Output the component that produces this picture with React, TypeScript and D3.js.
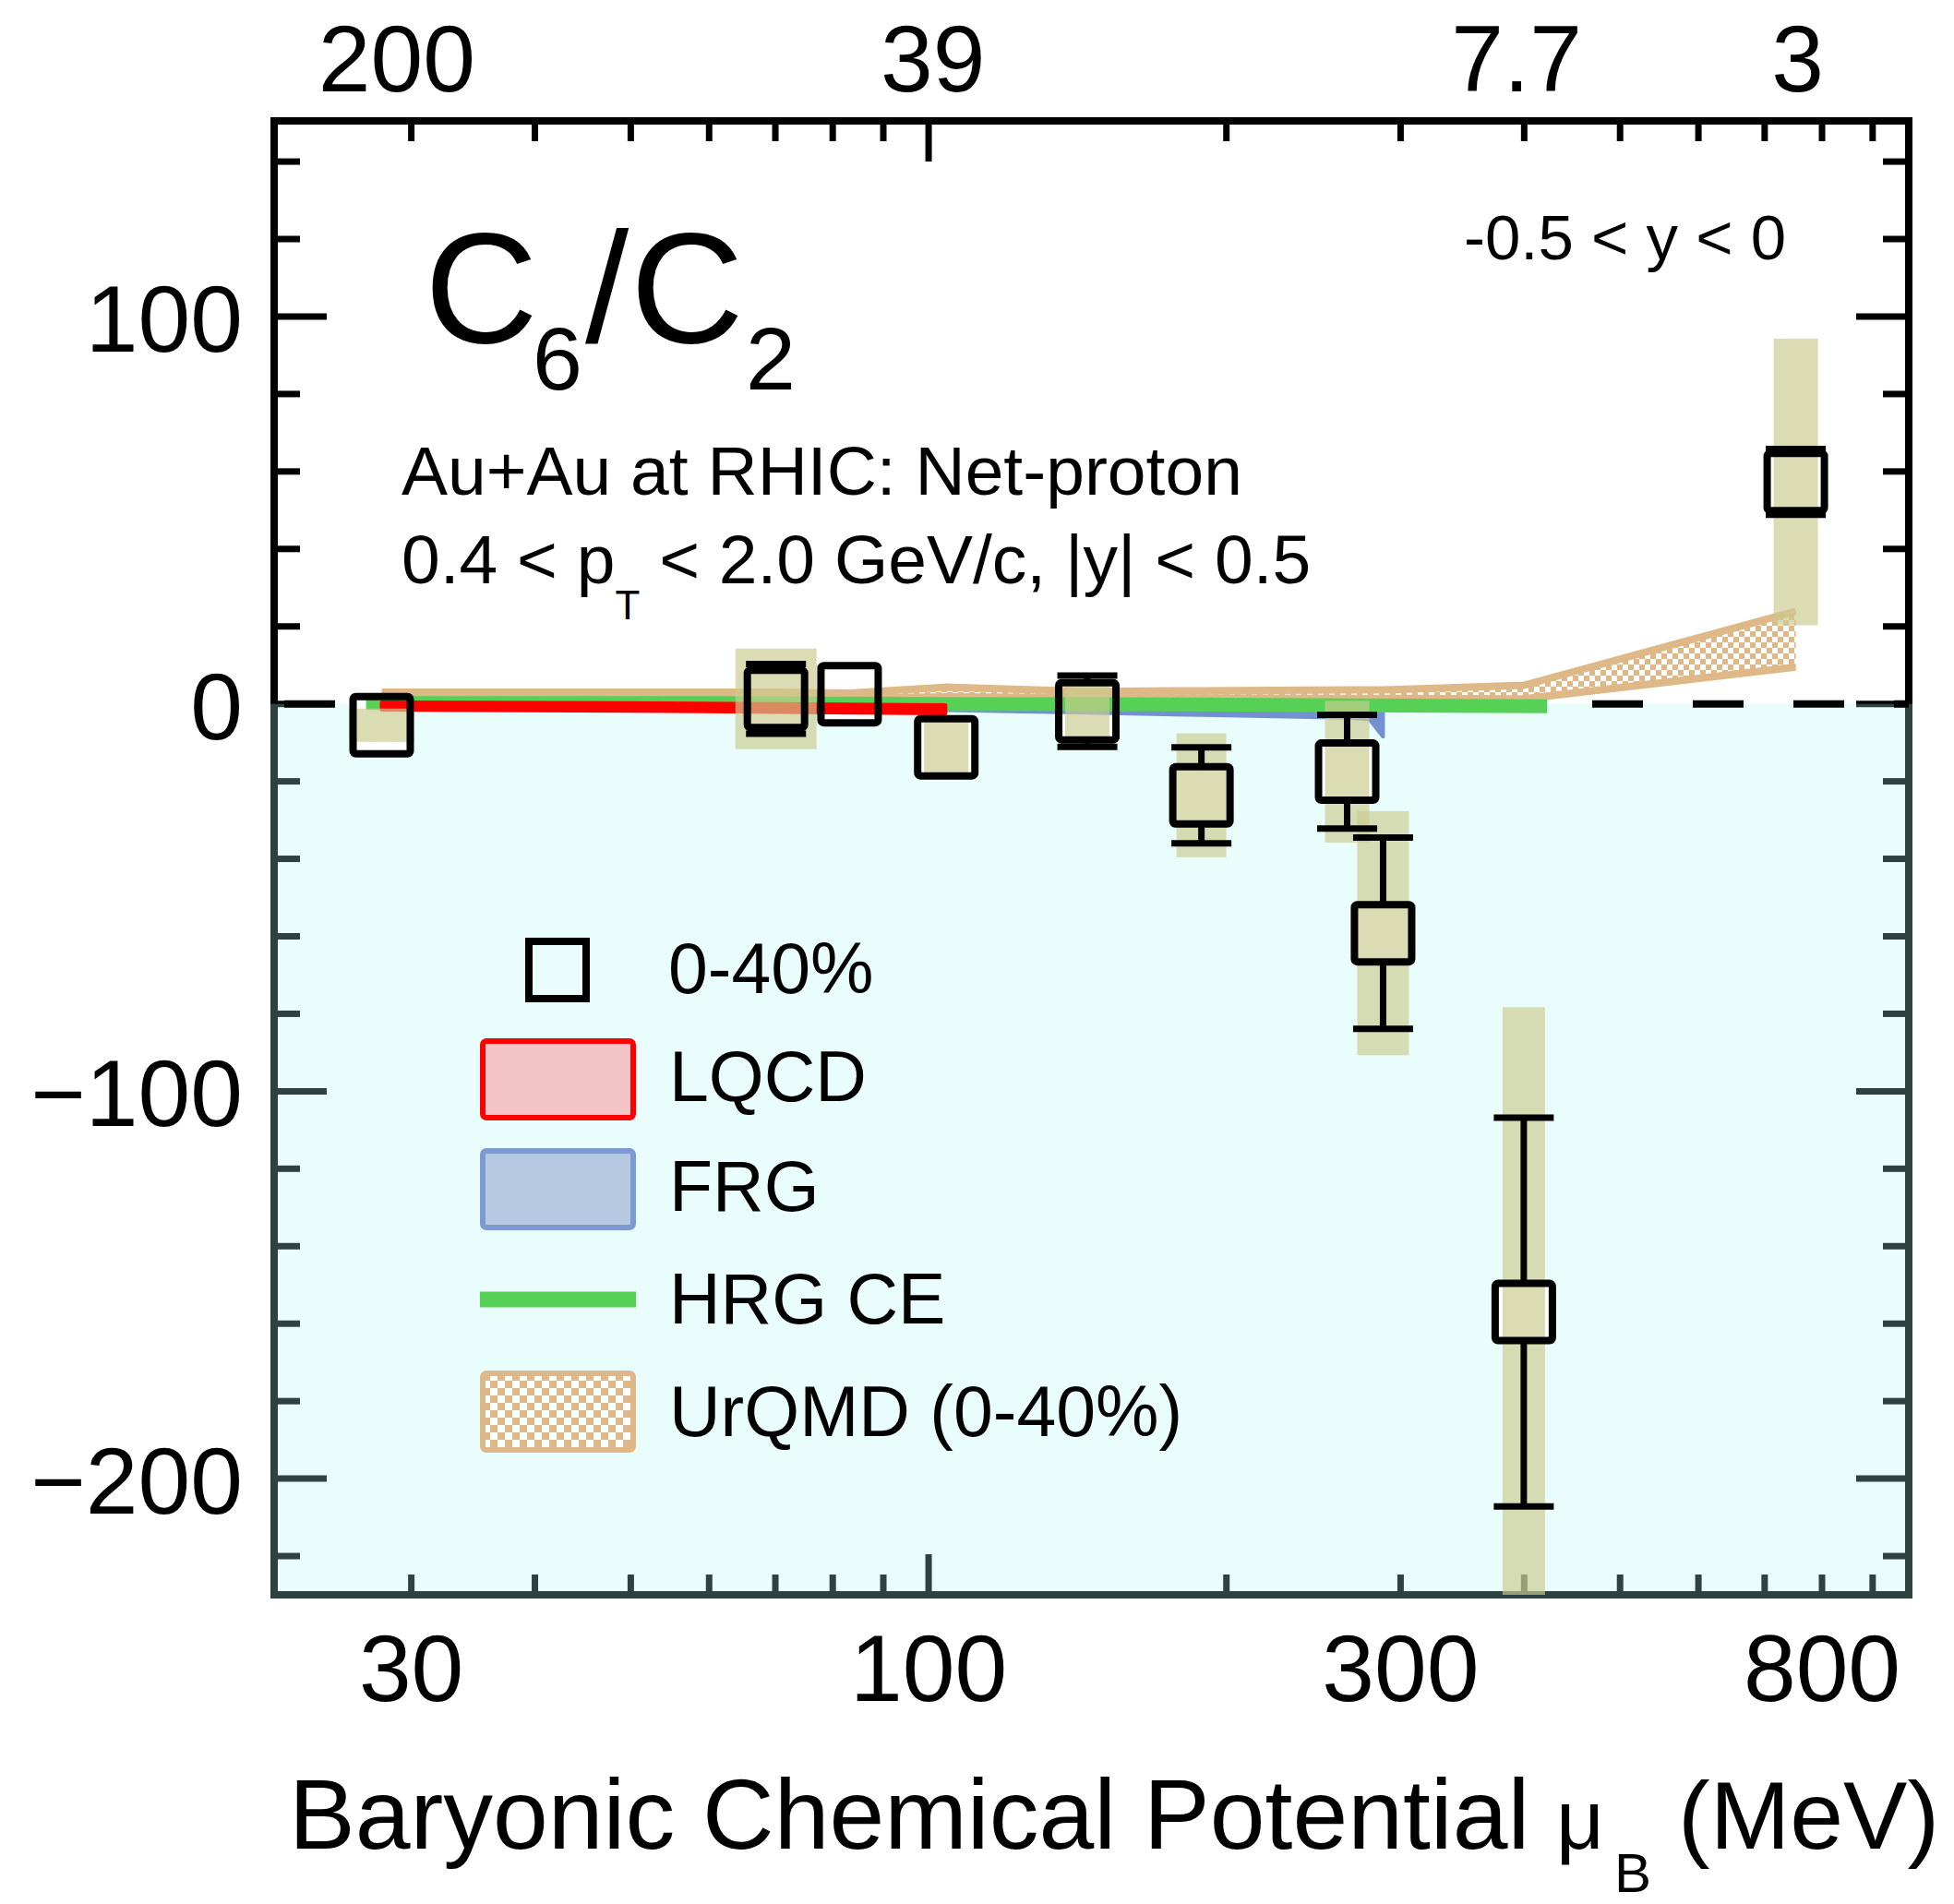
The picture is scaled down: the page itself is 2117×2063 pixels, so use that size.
import React from "react";
import * as d3 from "d3";

const W = 2117;
const H = 2063;
const FONT = "'Liberation Sans', Arial, Helvetica, sans-serif";

// Net-proton C6/C2, Au+Au 0-40%, vs baryonic chemical potential (MeV)
const muB = [28.0, 70.1, 83.2, 104.2, 144.7, 188.7, 264.9, 288.0, 399.6, 752.6];
const c6c2 = [-5.5, 1.3, 2.5, -11.2, -1.9, -23.6, -17.5, -59.2, -157.0, 57.3];
const statErr = [5, 9.0, 4, 5, 9.2, 12.4, 14.7, 24.7, 50.2, 8.5];
const sysErr = [4.3, 13, 0, 7.5, 6.5, 16, 18.3, 31.5, 78.7, 37];

// Lattice QCD band
const lqcdMuB = [28, 50, 70, 104];
const lqcdHi = [0.4, 0.2, 0.0, -0.3];
const lqcdLo = [-1.5, -1.8, -2.1, -2.5];

// FRG band
const frgMuB = [28, 70, 104, 145, 189, 265, 279, 288];
const frgHi = [0.0, -0.2, -0.3, -0.6, -0.9, -1.6, -1.9, -2.2];
const frgLo = [-1.0, -1.3, -1.6, -2.3, -2.9, -3.6, -4.0, -8.5];

// HRG with canonical ensemble
const hrgMuB = [27, 60, 104, 145, 200, 265, 330, 422];
const hrgVal = [0.2, 0.2, 0.0, -0.1, -0.2, -0.4, -0.5, -0.6];

// UrQMD 0-40% band
const urqmdMuB = [28, 70.1, 83.2, 104.2, 144.7, 188.7, 264.9, 288.0, 399.6, 752.6];
const urqmdHi = [3.0, 3.0, 2.8, 4.3, 3.2, 3.4, 3.6, 3.6, 4.8, 23.9];
const urqmdLo = [1.6, 1.6, 1.6, 1.8, 1.6, 1.5, 1.4, 1.4, 1.3, 9.5];

// axes
const muBLabelTicks = [30, 100, 300, 800];
const muBMajorTicks = [100];
const muBMinorTicks = [30, 40, 50, 60, 70, 80, 90, 200, 300, 400, 500, 600, 700, 800, 900];
const yMajorTicks = [-200, -100, 0, 100];
const yMinorTicks = [-220, -180, -160, -140, -120, -80, -60, -40, -20, 20, 40, 60, 80, 120, 140];
const yLabelTicks = [100, 0, -100, -200];
const energyLabels = ["200", "39", "7.7", "3"];
const energyMuB = [29, 101, 393, 756];

// systematic box half-widths (px)
const sysHalfW = [35, 44, 24, 24, 24, 27, 24, 28, 23, 24];

const L = 297, R = 2068, T = 131, B = 1728;
const x = d3.scaleLog().domain([21.8, 979]).range([L, R]);
const y = d3.scaleLinear().domain([-230, 150.5]).range([B, T]);

const bandPath = (mu: number[], lo: number[], hi: number[]) =>
  d3
    .area<number>()
    .x((i) => x(mu[i]))
    .y0((i) => y(lo[i]))
    .y1((i) => y(hi[i]))(d3.range(mu.length)) as string;

const linePath = (mu: number[], v: number[]) =>
  d3
    .line<number>()
    .x((i) => x(mu[i]))
    .y((i) => y(v[i]))(d3.range(mu.length)) as string;

const fmt = (v: number) => (v < 0 ? "\u2212" + Math.abs(v) : String(v));

const TAN = "#deb887";
const BOX = 62; // marker size (stroke centre)

export default function App() {
  const y0 = y(0);
  return (
    <svg
      width={W}
      height={H}
      viewBox={`0 0 ${W} ${H}`}
      style={{ position: "absolute", left: 0, top: 0, background: "#fff" }}
      fontFamily={FONT}
    >
      <defs>
        <pattern id="chk" width={12} height={12} patternUnits="userSpaceOnUse">
          <rect width={12} height={12} fill="#fff" />
          <rect width={6} height={6} fill={TAN} />
          <rect x={6} y={6} width={6} height={6} fill={TAN} />
        </pattern>
        <pattern id="chkLeg" width={16} height={16} patternUnits="userSpaceOnUse" x={523} y={1488}>
          <rect width={16} height={16} fill="#fff" />
          <rect width={8} height={8} fill={TAN} />
          <rect x={8} y={8} width={8} height={8} fill={TAN} />
        </pattern>
      </defs>
      <rect width={W} height={H} fill="#fff" />

      {/* frame and ticks */}
      <g stroke="#000" strokeWidth={7}>
        {muBMinorTicks.concat(muBMajorTicks).map((v) => {
          const len = muBMajorTicks.includes(v) ? 44 : 22;
          return (
            <g key={"xt" + v}>
              <line x1={x(v)} x2={x(v)} y1={B} y2={B - len} />
              <line x1={x(v)} x2={x(v)} y1={T} y2={T + len} />
            </g>
          );
        })}
        {yMinorTicks.concat(yMajorTicks).map((v) => {
          const len = yMajorTicks.includes(v) ? 57 : 28;
          return (
            <g key={"yt" + v}>
              <line x1={L} x2={L + len} y1={y(v)} y2={y(v)} />
              <line x1={R} x2={R - len} y1={y(v)} y2={y(v)} />
            </g>
          );
        })}
      </g>
      <rect x={L} y={T} width={R - L} height={B - T} fill="none" stroke="#000" strokeWidth={8} />

      {/* negative region */}
      <rect
        x={L - 4}
        y={y0}
        width={R - L + 8}
        height={B - y0 + 4}
        fill="rgb(176,247,247)"
        fillOpacity={0.267}
      />

      {/* zero line */}
      <line
        x1={L}
        x2={R}
        y1={y0}
        y2={y0}
        stroke="#000"
        strokeWidth={8}
        strokeDasharray="55 54"
        strokeDashoffset={98}
      />

      {/* marker backgrounds */}
      {muB.map((m, i) => (
        <rect
          key={"mb" + i}
          x={x(m) - BOX / 2}
          y={y(c6c2[i]) - BOX / 2}
          width={BOX}
          height={BOX}
          fill="#fff"
        />
      ))}

      {/* model curves */}
      <path d={bandPath(urqmdMuB, urqmdLo, urqmdHi)} fill="url(#chk)" />
      <path d={linePath(urqmdMuB, urqmdHi)} fill="none" stroke={TAN} strokeWidth={8} />
      <path d={linePath(urqmdMuB, urqmdLo)} fill="none" stroke={TAN} strokeWidth={8} />

      <path
        d={bandPath(frgMuB, frgLo, frgHi)}
        fill="#7391d1"
        stroke="#7391d1"
        strokeWidth={4}
        strokeLinejoin="round"
      />
      <path d={linePath(hrgMuB, hrgVal)} fill="none" stroke="#56d156" strokeWidth={15} />
      <path
        d={bandPath(lqcdMuB, lqcdLo, lqcdHi)}
        fill="#ff0000"
        stroke="#ff0000"
        strokeWidth={4}
        strokeLinejoin="round"
      />

      {/* systematic boxes */}
      {muB.map((m, i) =>
        sysErr[i] > 0 ? (
          <rect
            key={"sys" + i}
            x={x(m) - sysHalfW[i]}
            y={y(Math.min(c6c2[i] + sysErr[i], 150.5))}
            width={2 * sysHalfW[i]}
            height={y(Math.max(c6c2[i] - sysErr[i], -230)) - y(Math.min(c6c2[i] + sysErr[i], 150.5))}
            fill="rgb(203,203,143)"
            fillOpacity={0.67}
          />
        ) : null
      )}

      {/* statistical errors */}
      <g stroke="#000" strokeWidth={7}>
        {muB.map((m, i) => {
          const cx = x(m);
          const cy = y(c6c2[i]);
          const top = y(c6c2[i] + statErr[i]);
          const bot = y(c6c2[i] - statErr[i]);
          if (cy - top <= BOX / 2) return null;
          return (
            <g key={"err" + i}>
              <line x1={cx} x2={cx} y1={top} y2={cy - BOX / 2} />
              <line x1={cx} x2={cx} y1={cy + BOX / 2} y2={bot} />
              <line x1={cx - 32.5} x2={cx + 32.5} y1={top} y2={top} />
              <line x1={cx - 32.5} x2={cx + 32.5} y1={bot} y2={bot} />
            </g>
          );
        })}
      </g>

      {/* markers */}
      {muB.map((m, i) => (
        <rect
          key={"mk" + i}
          x={x(m) - BOX / 2}
          y={y(c6c2[i]) - BOX / 2}
          width={BOX}
          height={BOX}
          rx={3}
          fill="none"
          stroke="#000"
          strokeWidth={8}
        />
      ))}

      {/* tick labels */}
      <g fontSize={102} fill="#000">
        {yLabelTicks.map((v) => (
          <text key={"yl" + v} x={263} y={y(v) + 38} textAnchor="end">
            {fmt(v)}
          </text>
        ))}
        {muBLabelTicks.map((v) => (
          <text key={"xl" + v} x={x(v)} y={1843} textAnchor="middle">
            {v}
          </text>
        ))}
        {energyLabels.map((s, i) => (
          <text key={"el" + s} x={x(energyMuB[i])} y={99} textAnchor="middle">
            {s}
          </text>
        ))}
      </g>

      {/* axis title */}
      <g fill="#000">
        <text x={313} y={2003} fontSize={107.5}>
          Baryonic Chemical Potential
        </text>
        <text x={1686} y={2003} fontSize={90}>
          μ
        </text>
        <text x={1749} y={2050} fontSize={60}>
          B
        </text>
        <text x={1818} y={2003} fontSize={104}>
          (MeV)
        </text>
      </g>

      {/* title */}
      <g fill="#000">
        <text x={460} y={371} fontSize={170}>
          C
        </text>
        <text x={577} y={422} fontSize={97}>
          6
        </text>
        <text x={634} y={371} fontSize={170}>
          /
        </text>
        <text x={683} y={371} fontSize={170}>
          C
        </text>
        <text x={808} y={422} fontSize={97}>
          2
        </text>
      </g>

      <text x={435} y={536} fontSize={75} fill="#000">
        Au+Au at RHIC: Net-proton
      </text>
      <text x={435} y={632} fontSize={75} fill="#000">
        0.4 &lt; p
        <tspan fontSize={44} dy={39}>
          T
        </tspan>
        <tspan dy={-39}> &lt; 2.0 GeV/c, |y| &lt; 0.5</tspan>
      </text>
      <text x={1586} y={281} fontSize={69} fill="#000">
        -0.5 &lt; y &lt; 0
      </text>

      {/* legend */}
      <g>
        <rect x={573} y={1020} width={62} height={62} fill="none" stroke="#000" strokeWidth={8} />
        <rect x={523} y={1128} width={163} height={83} rx={4} fill="#f3c5c7" stroke="#ff0000" strokeWidth={6} />
        <rect x={523} y={1247} width={163} height={83} rx={4} fill="#b7c8e1" stroke="#7d9bd3" strokeWidth={6} />
        <line x1={520} x2={689} y1={1408} y2={1408} stroke="#56d156" strokeWidth={17} />
        <rect x={523} y={1488} width={163} height={83} rx={4} fill="url(#chkLeg)" stroke={TAN} strokeWidth={6} />
        <g fontSize={77} fill="#000">
          <text x={724} y={1076}>0-40%</text>
          <text x={725} y={1193}>LQCD</text>
          <text x={725} y={1312}>FRG</text>
          <text x={725} y={1434}>HRG CE</text>
          <text x={725} y={1556}>UrQMD (0-40%)</text>
        </g>
      </g>
    </svg>
  );
}
